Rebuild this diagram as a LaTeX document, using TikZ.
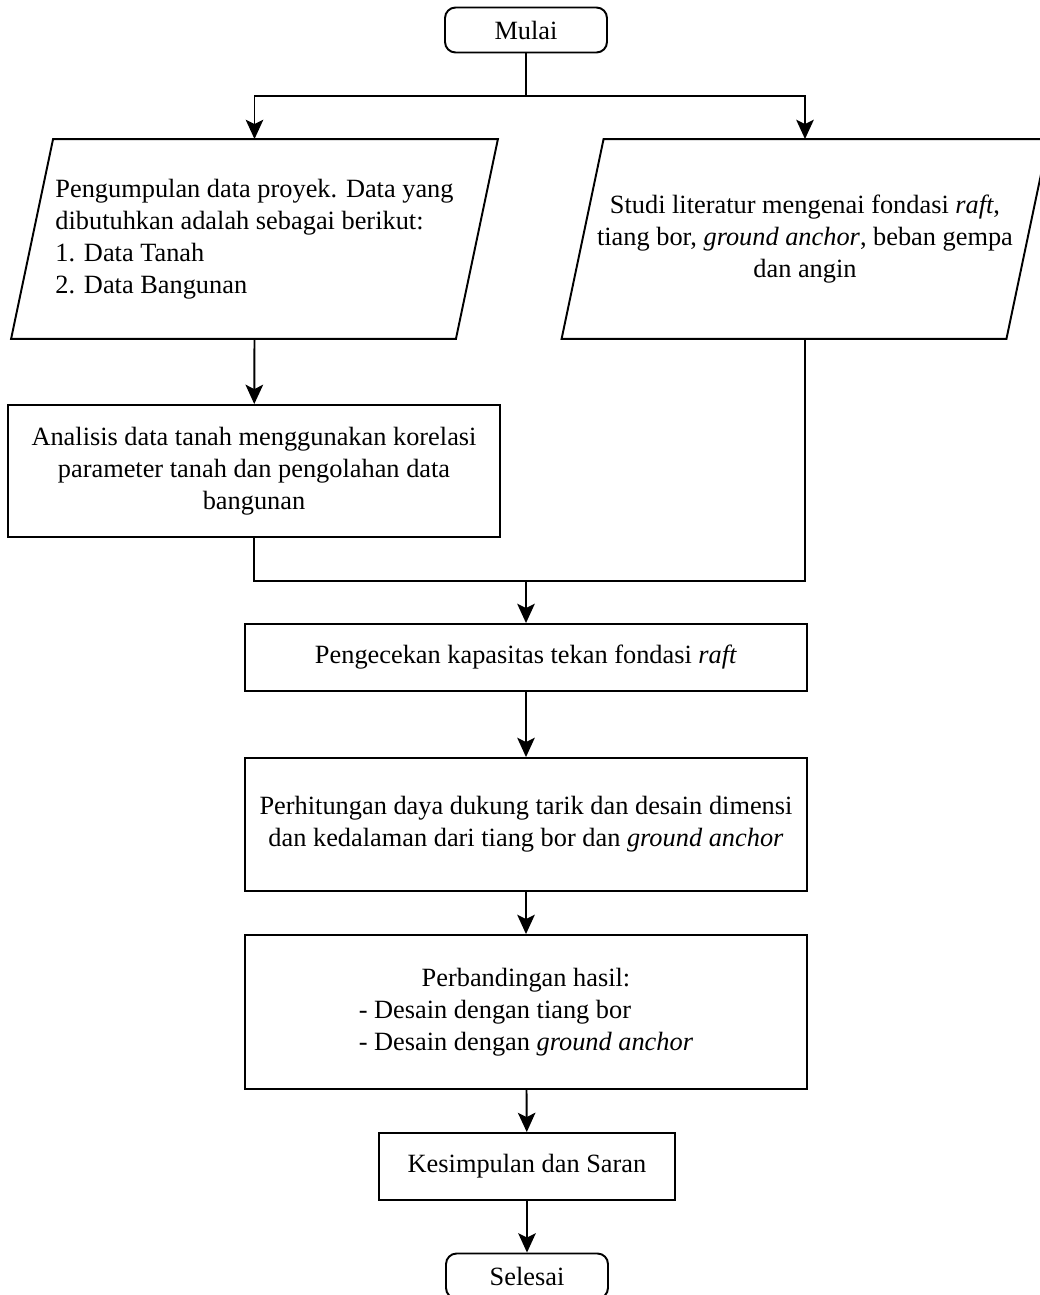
\documentclass[tikz,border=0pt]{standalone}
\usepackage{fontspec}
\setmainfont{Liberation Serif}
\usetikzlibrary{shapes.geometric, arrows.meta, positioning}

\tikzset{
    base/.style={draw=black, line width=1.1pt, font=\fontsize{15pt}{18.2pt}\selectfont, inner sep=2pt},
    terminal/.style={base, rectangle, rounded corners=6pt, minimum width=3.24cm, minimum height=0.9cm},
    process/.style={base, rectangle, align=center},
    inout/.style={base, draw=none, rectangle, minimum width=8.86cm, minimum height=3.96cm},
    line/.style={line width=1.1pt},
    arrow/.style={line, -{Stealth[length=11pt, width=10pt, inset=2.5pt]}}
}

\begin{document}
\begin{tikzpicture}[x=0.02cm, y=-0.02cm]
    \useasboundingbox (0,0) rectangle (1040,1295);

    % Start
    \node[terminal] (mulai) at (526,30) {Mulai};

    % Input data and literature
    \node[inout, align=left] (data) at (254.5,239) {
        Pengumpulan data proyek. Data yang\\
        dibutuhkan adalah sebagai berikut:\\
        1. Data Tanah\\
        2. Data Bangunan};
    \node[inout, align=center] (studi) at (805,239) {
        Studi literatur mengenai fondasi \textit{raft},\\
        tiang bor, \textit{ground anchor}, beban gempa\\
        dan angin};
    % Parallelogram outlines
    \foreach \n in {data, studi}
        \draw[line, line join=miter] ([xshift=0.42cm]\n.north west) -- ([xshift=0.42cm]\n.north east)
            -- ([xshift=-0.42cm]\n.south east) -- ([xshift=-0.42cm]\n.south west) -- cycle;

    % Processing
    \node[process, minimum width=9.84cm, minimum height=2.64cm] (analisis) at (254,471) {
        Analisis data tanah menggunakan korelasi\\
        parameter tanah dan pengolahan data\\
        bangunan};
    \node[process, minimum width=11.26cm, minimum height=1.34cm] (cek) at (526,657.5) {
        Pengecekan kapasitas tekan fondasi \textit{raft}};
    \node[process, minimum width=11.26cm, minimum height=2.66cm] (hitung) at (526,824.5) {
        Perhitungan daya dukung tarik dan desain dimensi\\
        dan kedalaman dari tiang bor dan \textit{ground anchor}};
    \node[process, minimum width=11.26cm, minimum height=3.08cm] (banding) at (526,1012) {
        Perbandingan hasil:\\
        \rlap{- Desain dengan tiang bor}\hphantom{- Desain dengan \textit{ground anchor}}\\
        - Desain dengan \textit{ground anchor}};
    \node[process, minimum width=5.92cm, minimum height=1.34cm] (simpul) at (527,1166.5) {
        Kesimpulan dan Saran};

    % End
    \node[terminal] (selesai) at (527,1276) {Selesai};

    % Connectors
    \coordinate (split) at (526,96);
    \coordinate (join) at (526,581);
    \draw[line] (mulai) -- (split);
    \draw[arrow] (split) -| (data.north);
    \draw[arrow] (split) -| (studi.north);
    \draw[arrow] (data.south) -- (analisis);
    \draw[line] (analisis.south) |- (join) -| (studi.south);
    \draw[arrow] (join) -- (cek);
    \draw[arrow] (cek) -- (hitung);
    \draw[arrow] (hitung) -- (banding);
    \draw[arrow] (banding) -- (simpul);
    \draw[arrow] (simpul) -- (selesai);
\end{tikzpicture}
\end{document}
